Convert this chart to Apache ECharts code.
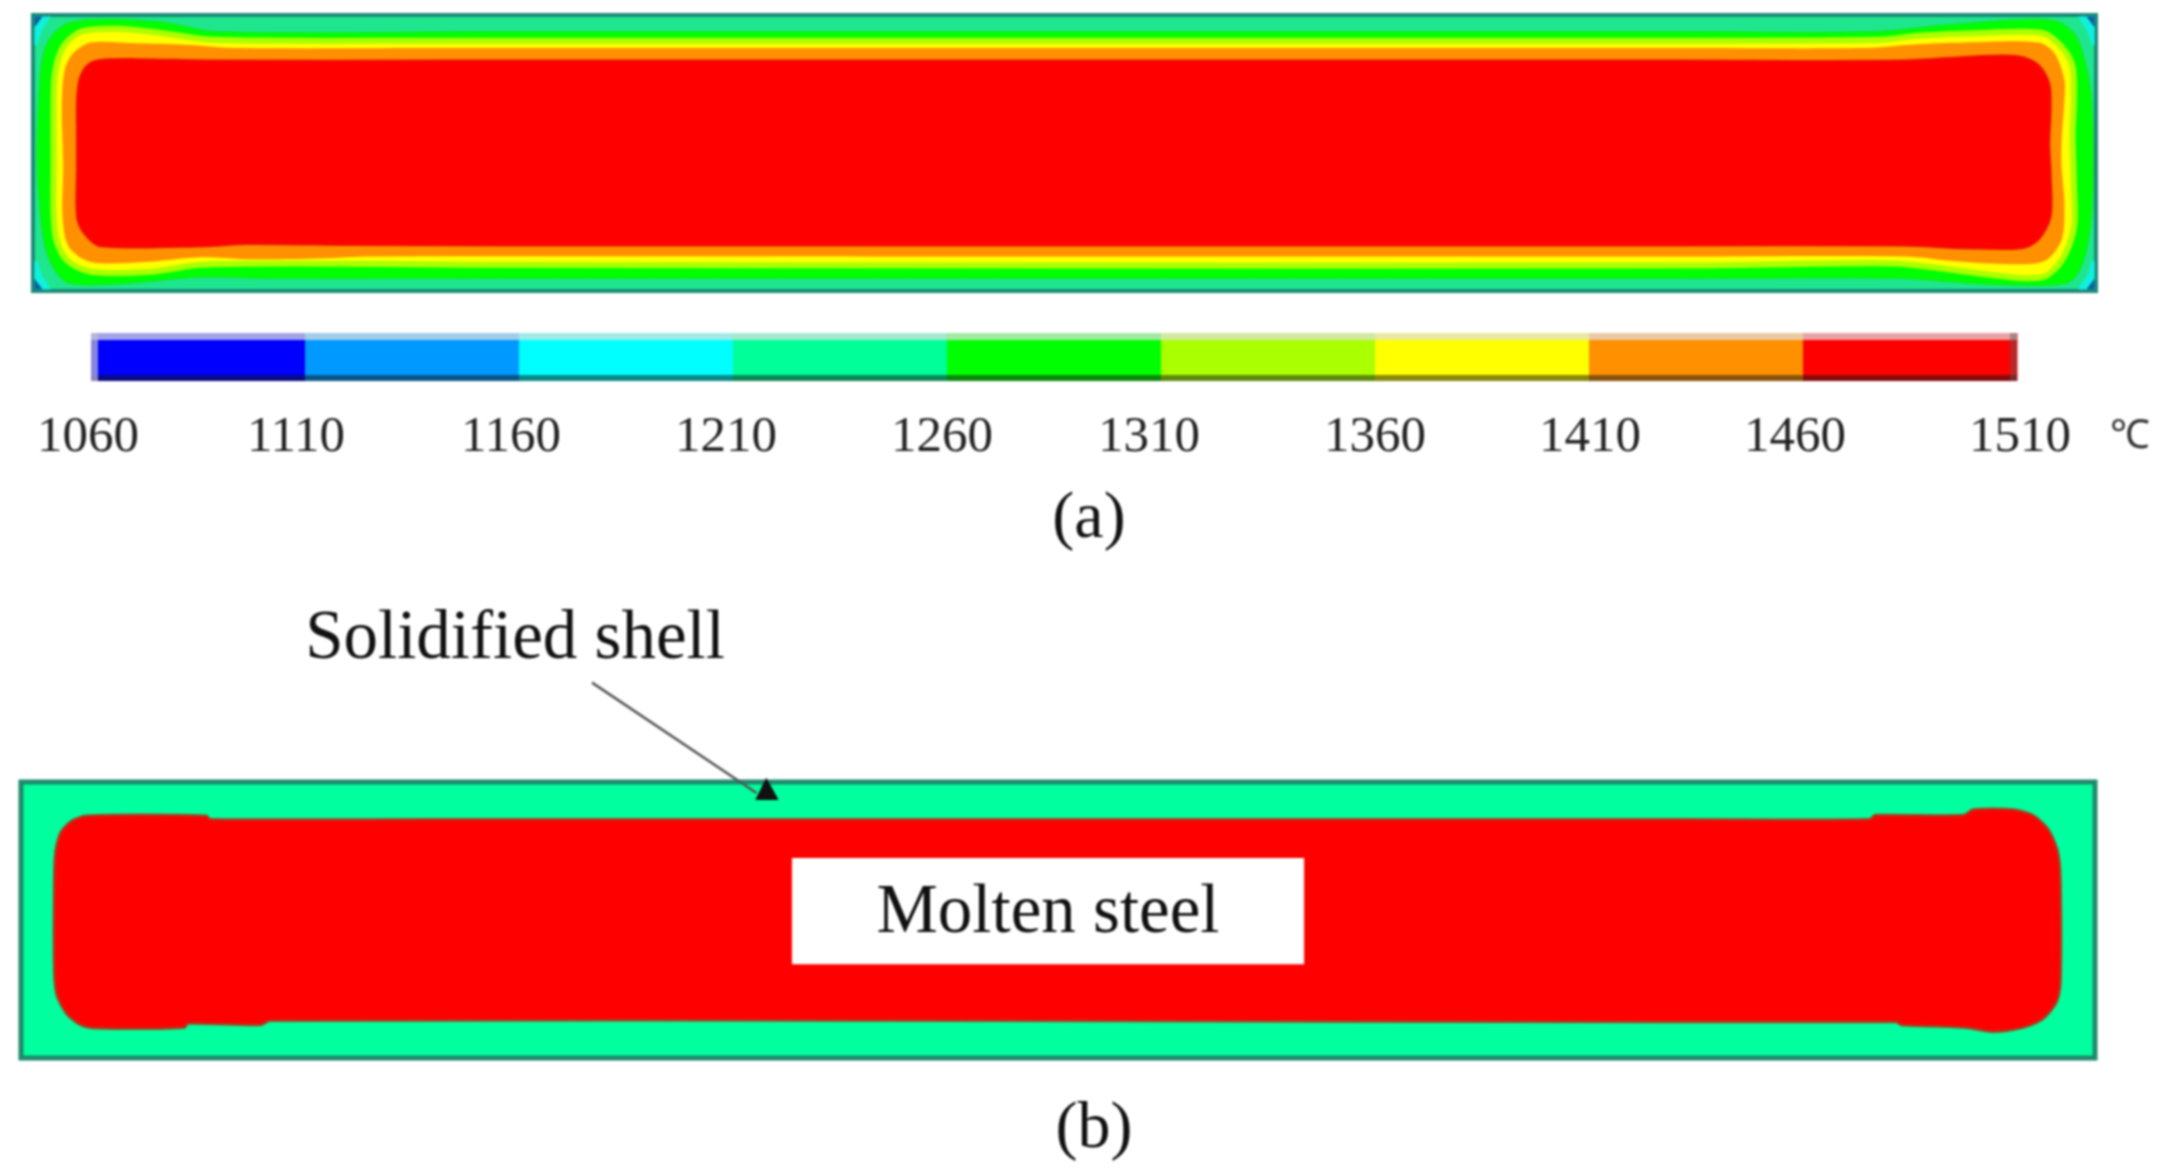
<!DOCTYPE html>
<html>
<head>
<meta charset="utf-8">
<title>Slab temperature field</title>
<script src="https://cdn.jsdelivr.net/npm/echarts@6/dist/echarts.min.js"></script>
<style>
  html, body { margin: 0; padding: 0; background: #fff; }
  #main { width: 2169px; height: 1174px; filter: blur(1px); }
</style>
</head>
<body>
<div id="main"></div>
<script>
// colour scale, temperature in degrees C
var tempLabels = ['1060', '1110', '1160', '1210', '1260', '1310', '1360', '1410', '1460', '1510'];
var bandColors = ['#0000ff', '#0099ff', '#00ffff', '#00ff99', '#00ff00', '#aaff00', '#ffff00', '#ff9000', '#ff0000'];
// the labels in the figure are hand placed, not quite on the band edges (px)
var labelNudge = [-3, -9, -8, -7, -5, -12, 0, 1, -8, 3];

// section outline, mm (x along the wide face, y down from the top face)
var sectionWidth = 1500;
var sectionHeight = 200;
var sectionRect = [[0, 0], [1500, 0], [1500, 200], [0, 200]];

// (a) isotherms
var cornerCyan = [
  [[1, 1], [13, 1], [6, 12], [3, 22], [1, 22]],
  [[1499, 1], [1487, 1], [1494, 12], [1497, 22], [1499, 22]],
  [[1, 199], [13, 199], [6, 188], [3, 178], [1, 178]],
  [[1499, 199], [1487, 199], [1494, 188], [1497, 178], [1499, 178]]
];
var cornerBlue = [
  [[1, 1], [7, 1], [1, 9]],
  [[1499, 1], [1493, 1], [1499, 9]],
  [[1, 199], [7, 199], [1, 191]],
  [[1499, 199], [1493, 199], [1499, 191]]
];
var isoGreen = [[25, 6], [49, 3], [93, 5], [134, 12], [340, 12], [700, 12], [1200, 12], [1337, 12], [1393, 7], [1453, 3], [1473, 5], [1485, 14.5], [1492, 33], [1497, 62], [1498, 110], [1497, 144], [1492, 175], [1483, 192], [1466, 196], [1417, 195], [1357, 191], [1200, 191], [700, 191], [340, 191], [170, 191], [122, 190], [61, 195], [25, 194], [13, 180], [7, 159], [3, 110], [4, 62], [7, 30], [13, 16]];
var isoYellow = [[35, 12], [61, 10], [93, 13], [132, 18], [300, 18.6], [700, 18.6], [1200, 18.6], [1342, 18], [1371, 15], [1417, 13], [1461, 13], [1475, 23], [1483, 37.5], [1484, 62], [1483, 86], [1484, 125], [1484, 154], [1475, 178], [1461, 190], [1429, 189], [1391, 184], [1352, 180], [1200, 181.5], [700, 181.5], [316, 181], [195, 180], [122, 181], [86, 186], [42, 186], [25, 178], [17, 163], [15, 144], [15, 105], [15, 66], [16, 42], [22, 23]];
var isoOrange = [[42, 20], [74, 20.5], [110, 21.5], [150, 24], [300, 24], [700, 24], [1200, 24], [1330, 24], [1366, 21.5], [1405, 20], [1458, 20], [1470, 28], [1477, 47], [1477, 62], [1475, 91], [1475, 110], [1477, 137], [1475, 163], [1463, 178], [1439, 180.6], [1398, 178.5], [1361, 175], [1200, 175], [700, 175], [243, 175], [219, 176], [161, 177], [122, 175.5], [81, 179], [42, 179], [26, 168], [21.5, 146], [22, 110], [21, 66], [23, 40], [29, 28]];
var isoRed = [[49, 32.6], [76, 32], [132, 33], [300, 33], [700, 33], [1200, 33], [1359, 33], [1412, 30], [1444, 30], [1458, 36], [1466, 49.6], [1467, 69], [1466, 93], [1467, 115], [1467, 146], [1458, 163], [1446, 169], [1405, 169], [1359, 167], [1200, 167], [700, 167], [340, 167], [233, 166.7], [156, 166], [127, 167.5], [49, 167.5], [37, 158], [32, 146], [32, 110], [32, 86], [32, 62], [34, 46], [40, 36]];

// (b) molten pool outline and the label box sitting on it
var moltenPool = [[47, 24.5], [134, 24.5], [137, 27], [300, 27], [700, 27], [1200, 27], [1337, 27], [1341, 24], [1405, 24], [1412, 20], [1441, 20], [1455, 24], [1466, 34], [1473, 50], [1475, 70], [1475, 146], [1472, 160], [1462, 172], [1448, 178], [1426, 181], [1407, 178], [1360, 176], [1356, 174], [1200, 174], [700, 173], [180, 173], [173, 176], [121, 175], [118, 178], [55, 178.5], [43, 176], [33, 168], [26, 155], [24, 137], [24, 70], [25, 50], [29, 36], [37, 28]];
var labelBox = [[557.6, 55], [928, 55], [928, 132], [557.6, 132]];

// leader from "Solidified shell" down to the shell
var arrowLine = [[413, -72], [532, 8]];
var arrowHead = [[539, -3], [548, 13], [531, 13]];

function polygonItem(api, pts, color, stroke, strokeWidth, smooth) {
  return {
    type: 'polygon',
    shape: { points: pts.map(function (p) { return api.coord(p); }), smooth: smooth || 0 },
    style: { fill: color, stroke: stroke || null, lineWidth: strokeWidth || 0 }
  };
}

// one custom series per section, its layers painted in list order
function sectionSeries(gridIndex, layers) {
  return {
    type: 'custom',
    xAxisIndex: gridIndex,
    yAxisIndex: gridIndex,
    silent: true,
    clip: false,
    data: layers.map(function (l) { return l.pts[0]; }),
    renderItem: function (params, api) {
      var l = layers[params.dataIndex];
      return polygonItem(api, l.pts, l.color, l.stroke, l.width, l.smooth);
    }
  };
}

var layersA = [{ pts: sectionRect, color: '#1ee68f', stroke: '#1b8a78', width: 4 }];
cornerCyan.forEach(function (c) { layersA.push({ pts: c, color: '#10f0e0' }); });
cornerBlue.forEach(function (c) { layersA.push({ pts: c, color: '#0d5f9c' }); });
layersA.push({ pts: isoGreen, color: bandColors[4], stroke: '#22e030', width: 1, smooth: 0.3 });
layersA.push({ pts: isoYellow, color: bandColors[6], stroke: bandColors[5], width: 6, smooth: 0.3 });
layersA.push({ pts: isoOrange, color: bandColors[7], smooth: 0.3 });
layersA.push({ pts: isoRed, color: bandColors[8], stroke: '#ee1000', width: 2, smooth: 0.3 });

var layersB = [
  { pts: sectionRect, color: '#00ff9f', stroke: '#1f8a6c', width: 5 },
  { pts: moltenPool, color: bandColors[8], stroke: '#a8401f', width: 2.5, smooth: 0.25 },
  { pts: labelBox, color: '#ffffff' },
  { pts: arrowHead, color: '#111111' }
];

function hiddenAxis(index, max, inverse) {
  return { gridIndex: index, type: 'value', min: 0, max: max, inverse: inverse, show: false };
}

var serifFont = '"Liberation Serif", serif';

function noteText(x, y, text, size, color) {
  return {
    type: 'text',
    x: x,
    y: y,
    z: 100,
    silent: true,
    style: {
      text: text,
      fontFamily: serifFont,
      fontSize: size,
      fill: color || '#111111',
      textAlign: 'center',
      textVerticalAlign: 'middle'
    }
  };
}

var chart = echarts.init(document.getElementById('main'));
chart.setOption({
  animation: false,
  backgroundColor: '#ffffff',
  grid: [
    { left: 33, top: 15, width: 2063, height: 276 },
    { left: 21, top: 782, width: 2074, height: 276 },
    { left: 91, top: 333, width: 1926, height: 48 }
  ],
  xAxis: [
    hiddenAxis(0, sectionWidth),
    hiddenAxis(1, sectionWidth),
    {
      gridIndex: 2,
      type: 'category',
      boundaryGap: false,
      data: tempLabels,
      axisLine: { show: false },
      axisTick: { show: false },
      splitLine: { show: false },
      axisLabel: { show: false }
    }
  ],
  yAxis: [
    hiddenAxis(0, sectionHeight, true),
    hiddenAxis(1, sectionHeight, true),
    { gridIndex: 2, type: 'value', min: 0, max: 1, show: false }
  ],
  series: [
    sectionSeries(0, layersA),
    sectionSeries(1, layersB),
    {
      // leader line
      type: 'line',
      xAxisIndex: 1,
      yAxisIndex: 1,
      silent: true,
      clip: false,
      symbol: 'none',
      data: arrowLine,
      lineStyle: { color: '#555555', width: 2.5 }
    },
    {
      // colour bar bands
      type: 'custom',
      xAxisIndex: 2,
      yAxisIndex: 2,
      silent: true,
      data: bandColors.map(function (c, i) { return [i, 1]; }),
      renderItem: function (params, api) {
        var i = params.dataIndex;
        var a = api.coord([i, 1]);
        var b = api.coord([i + 1, 0]);
        return {
          type: 'rect',
          shape: { x: a[0], y: a[1], width: b[0] - a[0] + 0.5, height: b[1] - a[1] },
          style: { fill: bandColors[i] }
        };
      }
    },
    {
      // bevel round the colour bar
      type: 'custom',
      xAxisIndex: 2,
      yAxisIndex: 2,
      silent: true,
      z: 3,
      data: [[0, 1]],
      renderItem: function (params) {
        var c = params.coordSys;
        function bar(x, y, w, h, fill) {
          return { type: 'rect', shape: { x: x, y: y, width: w, height: h }, style: { fill: fill } };
        }
        return {
          type: 'group',
          children: [
            bar(c.x, c.y, c.width, 7, 'rgba(225,225,225,0.72)'),
            bar(c.x, c.y + c.height - 6, c.width, 6, 'rgba(20,20,20,0.5)'),
            bar(c.x, c.y, 7, c.height, 'rgba(190,190,210,0.7)'),
            bar(c.x + c.width - 7, c.y, 7, c.height, 'rgba(90,90,90,0.45)')
          ]
        };
      }
    },
    {
      // temperature labels under the bar
      type: 'custom',
      xAxisIndex: 2,
      yAxisIndex: 2,
      silent: true,
      clip: false,
      data: tempLabels.map(function (t, i) { return [i, 0]; }),
      renderItem: function (params, api) {
        var i = params.dataIndex;
        var p = api.coord([i, 0]);
        return {
          type: 'text',
          x: p[0] + labelNudge[i],
          y: p[1] + 57,
          style: {
            text: tempLabels[i],
            fontFamily: serifFont,
            fontSize: 51,
            fill: '#222222',
            textAlign: 'center',
            textVerticalAlign: 'middle'
          }
        };
      }
    }
  ],
  graphic: [
    noteText(2130, 437, '℃', 40, '#333333'),
    noteText(1089, 520, '(a)', 66),
    noteText(515, 640, 'Solidified shell', 69),
    noteText(1048, 914, 'Molten steel', 69),
    noteText(1094, 1130, '(b)', 66)
  ]
});
</script>
</body>
</html>
